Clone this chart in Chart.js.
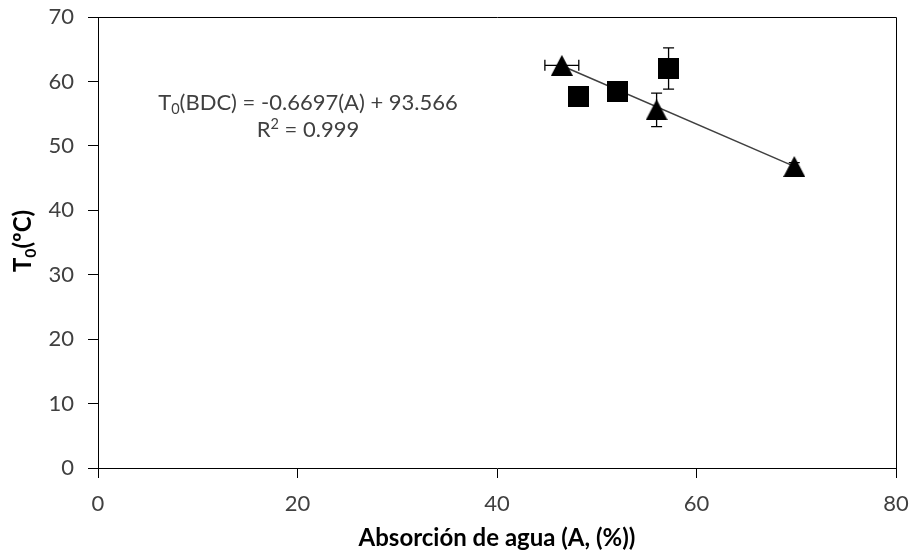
<!DOCTYPE html>
<html>
<head>
<meta charset="utf-8">
<script src="https://cdn.jsdelivr.net/npm/chart.js@4/dist/chart.umd.min.js"></script>
<style>
  html, body { margin: 0; padding: 0; background: #ffffff; }
  #wrap { width: 916px; height: 556px; position: relative; }
</style>
</head>
<body>
<div id="wrap"><canvas id="chart" width="916" height="556"></canvas></div>
<script>
// Square series (with vertical error where measured)
const squareX = [48.2, 52.1, 57.2];
const squareY = [57.6, 58.5, 62.0];
const squareErrY = [0, 0, 3.2];

// Triangle series (BDC), with its error bars
const triX = [46.5, 56.0, 69.8];
const triY = [62.5, 55.6, 46.8];
const triErrX = [1.7, 0, 0];
const triErrY = [0, 2.6, 0.6];

// Linear fit of the triangle series
const fitSlope = -0.6697;
const fitIntercept = 93.566;
const fitR2 = '0.999';

// Axis ticks
const xTicks = [0, 20, 40, 60, 80];
const yTicks = [0, 10, 20, 30, 40, 50, 60, 70];

const FONT = 'Lato, "Open Sans", sans-serif';

// Marker images: markers centred on their bounding box
function makeTriangle(w, h) {
  const c = document.createElement('canvas');
  c.width = w; c.height = h;
  const g = c.getContext('2d');
  g.fillStyle = '#000';
  g.beginPath();
  g.moveTo(0, h); g.lineTo(w / 2, 0); g.lineTo(w, h); g.closePath();
  g.fill();
  return c;
}
function makeSquare(s) {
  const c = document.createElement('canvas');
  c.width = s; c.height = s;
  const g = c.getContext('2d');
  g.fillStyle = '#000';
  g.fillRect(0, 0, s, s);
  return c;
}
const triImg = makeTriangle(22, 21);
const sqImg = makeSquare(21);

const xmin = Math.min(...triX), xmax = Math.max(...triX);
const fitLine = [
  { x: xmin, y: fitSlope * xmin + fitIntercept },
  { x: xmax, y: fitSlope * xmax + fitIntercept }
];

// Text runs with optional subscript / superscript pieces
function partSize(p, size) { return (p.sub || p.sup) ? size * 0.66 : size; }
function richWidth(ctx, parts, size, weight) {
  let w = 0;
  parts.forEach(p => {
    ctx.font = `${weight} ${partSize(p, size)}px ${FONT}`;
    w += ctx.measureText(p.t).width;
  });
  return w;
}
function drawRich(ctx, parts, x, y, size, weight, color) {
  ctx.fillStyle = color;
  ctx.textBaseline = 'alphabetic';
  ctx.textAlign = 'left';
  let cx = x;
  parts.forEach(p => {
    ctx.font = `${weight} ${partSize(p, size)}px ${FONT}`;
    let dy = 0;
    if (p.sub) dy = size * 0.2;
    if (p.sup) dy = -size * 0.36;
    ctx.fillText(p.t, cx, y + dy);
    cx += ctx.measureText(p.t).width;
  });
}

const errorBars = {
  id: 'errorBars',
  beforeDatasetsDraw(chart) {
    const { ctx, scales: { x, y } } = chart;
    const cap = 5.5;
    ctx.save();
    ctx.strokeStyle = '#000';
    ctx.lineWidth = 1.3;
    const sets = [
      { xs: squareX, ys: squareY, ex: squareX.map(() => 0), ey: squareErrY },
      { xs: triX, ys: triY, ex: triErrX, ey: triErrY }
    ];
    sets.forEach(s => {
      s.xs.forEach((xv, i) => {
        const px = x.getPixelForValue(xv), py = y.getPixelForValue(s.ys[i]);
        if (s.ey[i] > 0) {
          const t = y.getPixelForValue(s.ys[i] + s.ey[i]);
          const b = y.getPixelForValue(s.ys[i] - s.ey[i]);
          ctx.beginPath();
          ctx.moveTo(px, t); ctx.lineTo(px, b);
          ctx.moveTo(px - cap, t); ctx.lineTo(px + cap, t);
          ctx.moveTo(px - cap, b); ctx.lineTo(px + cap, b);
          ctx.stroke();
        }
        if (s.ex[i] > 0) {
          const l = x.getPixelForValue(xv - s.ex[i]);
          const r = x.getPixelForValue(xv + s.ex[i]);
          ctx.beginPath();
          ctx.moveTo(l, py); ctx.lineTo(r, py);
          ctx.moveTo(l, py - cap); ctx.lineTo(l, py + cap);
          ctx.moveTo(r, py - cap); ctx.lineTo(r, py + cap);
          ctx.stroke();
        }
      });
    });
    ctx.restore();
  }
};

const frameAndLabels = {
  id: 'frameAndLabels',
  afterDraw(chart) {
    const { ctx, chartArea: a } = chart;
    ctx.save();
    // plot frame (top and right edges)
    ctx.strokeStyle = '#000';
    ctx.lineWidth = 1;
    ctx.beginPath();
    ctx.moveTo(Math.round(a.left) + 0.5, Math.round(a.top) + 0.5);
    ctx.lineTo(Math.round(a.right) + 0.5, Math.round(a.top) + 0.5);
    ctx.lineTo(Math.round(a.right) + 0.5, Math.round(a.bottom) + 0.5);
    ctx.stroke();

    // fit equation
    const eq1 = [{ t: 'T' }, { t: '0', sub: true }, { t: '(BDC) = ' + fitSlope + '(A) + ' + fitIntercept }];
    const eq2 = [{ t: 'R' }, { t: '2', sup: true }, { t: ' = ' + fitR2 }];
    const size = 22;
    const cxEq = a.left + 210;
    const w1 = richWidth(ctx, eq1, size, 400);
    const w2 = richWidth(ctx, eq2, size, 400);
    drawRich(ctx, eq1, cxEq - w1 / 2, 110, size, 400, '#404040');
    drawRich(ctx, eq2, cxEq - w2 / 2, 137, size, 400, '#404040');

    // y axis title
    const yt = [{ t: 'T' }, { t: '0', sub: true }, { t: '(ºC)' }];
    const wy = richWidth(ctx, yt, 24, 700);
    ctx.translate(31, 241);
    ctx.rotate(-Math.PI / 2);
    drawRich(ctx, yt, -wy / 2, 0, 24, 700, '#000');
    ctx.restore();
  }
};

// the plot box is set by the layout padding alone
function noEdgePadding(s) {
  s.paddingTop = 0; s.paddingBottom = 0; s.paddingLeft = 0; s.paddingRight = 0;
}

new Chart(document.getElementById('chart'), {
  type: 'scatter',
  data: {
    datasets: [
      {
        type: 'line',
        data: fitLine,
        borderColor: '#404040',
        borderWidth: 1.5,
        pointRadius: 0,
        fill: false,
        order: 3
      },
      {
        data: squareX.map((v, i) => ({ x: v, y: squareY[i] })),
        pointStyle: sqImg,
        pointRadius: 11,
        order: 2
      },
      {
        data: triX.map((v, i) => ({ x: v, y: triY[i] })),
        pointStyle: triImg,
        pointRadius: 11,
        order: 1
      }
    ]
  },
  options: {
    responsive: false,
    animation: false,
    devicePixelRatio: 1,
    layout: { padding: { left: 0, top: 17, right: 20, bottom: 0 } },
    plugins: { legend: { display: false }, tooltip: { enabled: false } },
    scales: {
      x: {
        type: 'linear',
        min: 0, max: 80,
        afterBuildTicks(s) { s.ticks = xTicks.map(v => ({ value: v })); },
        afterFit(s) { s.height = 88; noEdgePadding(s); },
        grid: { drawOnChartArea: false, drawTicks: true, tickLength: 10, color: '#000' },
        border: { display: true, color: '#000', width: 1 },
        ticks: { color: '#404040', padding: 13, font: { family: FONT, size: 22 } },
        title: {
          display: true,
          text: 'Absorción de agua (A, (%))',
          color: '#000',
          font: { family: FONT, size: 24, weight: 'bold' },
          padding: { top: 0, bottom: 3 }
        }
      },
      y: {
        type: 'linear',
        min: 0, max: 70,
        afterBuildTicks(s) { s.ticks = yTicks.map(v => ({ value: v })); },
        afterFit(s) { s.width = 98; noEdgePadding(s); },
        grid: { drawOnChartArea: false, drawTicks: true, tickLength: 10, color: '#000' },
        border: { display: true, color: '#000', width: 1 },
        ticks: { color: '#404040', padding: 14, font: { family: FONT, size: 22 } }
      }
    }
  },
  plugins: [errorBars, frameAndLabels]
});
</script>
</body>
</html>
